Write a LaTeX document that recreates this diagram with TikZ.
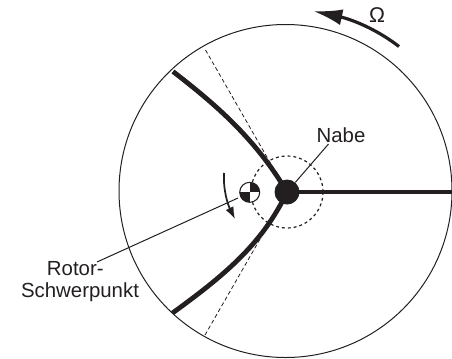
\documentclass[tikz,border=0pt]{standalone}
\usepackage{fontspec}
\setmainfont{Liberation Sans}
\usetikzlibrary{arrows.meta}
\definecolor{ink}{HTML}{231F20}
\tikzset{
  thin line/.style={draw=ink,line width=0.75pt},
  blade/.style={draw=ink,line width=3.6pt},
  dashline/.style={draw=ink,line width=0.6pt,dash pattern=on 3pt off 2pt},
  label/.style={text=ink,font=\fontsize{15.3}{16.5}\selectfont,inner sep=0pt},
}
\begin{document}
\begin{tikzpicture}[x=0.75pt,y=-0.75pt]
\useasboundingbox (0,0) rectangle (452,358);
\coordinate (hubc) at (287,192);
\coordinate (tipU) at (173,71.5);
\coordinate (tipL) at (172.5,313);
\coordinate (tipR) at (452,192);
\coordinate (dashU) at (205.5,50);
\coordinate (dashL) at (205,335);
% rotor disc
\draw[thin line] (285.5,191) circle [radius=166.5];
% dashed
\draw[dashline] (dashU) -- (hubc);
\draw[dashline] (dashL) -- (hubc);
\draw[draw=ink,line width=0.9pt,dash pattern=on 2.2pt off 2.2pt] (hubc) circle [radius=36];
% blades
\draw[blade] (tipU) .. controls (215,104) and (255,138) .. (hubc);
\draw[blade] (tipL) .. controls (222,277) and (262,245) .. (hubc);
\draw[blade] (hubc) -- (tipR);
% hub
\node[circle,fill=ink,minimum size=18.75pt,inner sep=0pt] (hub) at (hubc) {};
% labels
\node[label] (nabe) at (341,135.5) {Nabe};
\node[label,align=center] (rotor) at (80,281.5) {Rotor-\kern7pt\\Schwerpunkt};
\node[label,font=\fontsize{16}{18}\selectfont] (omega) at (377,15) {Ω};
% leaders
\draw[thin line] (328.5,144) -- (hub);
\draw[thin line] (238,198) -- (97,262);
% CG symbol
\coordinate (cg) at (249.7,192.3);
\fill[white] (cg) circle [radius=10];
\begin{scope}
\clip (cg) circle [radius=10];
\fill[ink] (cg) rectangle ++(10,-10);
\fill[ink] (cg) rectangle ++(-10,10);
\end{scope}
\draw[draw=ink,line width=0.8pt] (cg) circle [radius=10];
% small arrow
\coordinate (spinA) at (224,173);
\coordinate (spinB) at (235,219);
\draw[draw=ink,line width=1.3pt,-{Latex[length=9pt,width=6.5pt]}] (spinA) .. controls (223,190) and (228,205) .. (spinB);
% omega arrow
\coordinate (omA) at (399,46.5);
\coordinate (omB) at (313,11);
\draw[draw=ink,line width=2.4pt,-{Latex[length=22pt,width=12pt]}] (omA) .. controls (375,28) and (350,19) .. (omB);
\end{tikzpicture}
\end{document}
